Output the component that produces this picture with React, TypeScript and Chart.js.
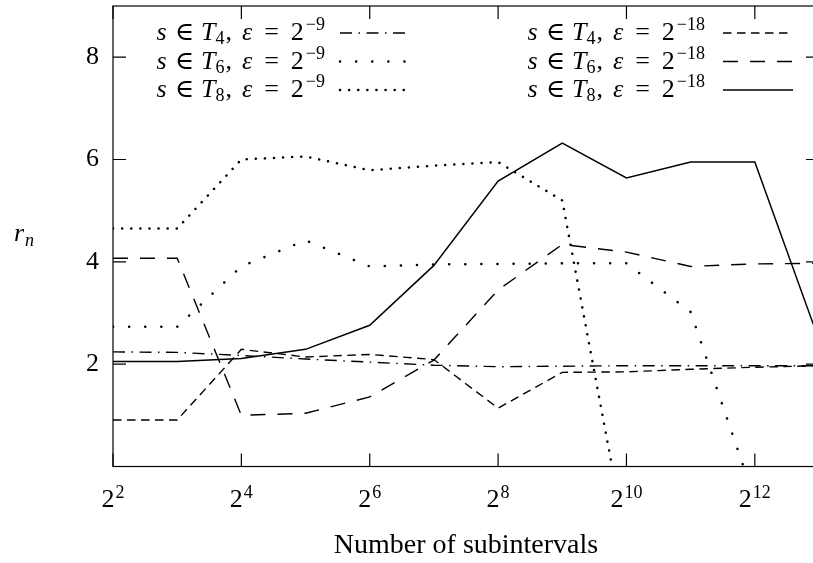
import React, { useEffect, useRef } from 'react';
import { Chart, registerables } from 'chart.js';

Chart.register(...registerables);

// ---- data ----
const nValues = [4, 8, 16, 32, 64, 128, 256, 512, 1024, 2048, 4096, 8192];
const xTickExponents = [2, 4, 6, 8, 10, 12];
const yTickValues = [2, 4, 6, 8];

const t4Eps9 = [2.24, 2.23, 2.17, 2.1, 2.04, 1.98, 1.95, 1.96, 1.97, 1.97, 1.97, 1.97];
const t6Eps9 = [2.73, 2.73, 3.91, 4.42, 3.91, 3.95, 3.96, 3.97, 3.97, 3.02, -0.65, null];
const t8Eps9 = [4.65, 4.65, 6.0, 6.06, 5.79, 5.88, 5.95, 5.2, -1.5, null, null, null];
const t4Eps18 = [0.91, 0.91, 2.29, 2.14, 2.19, 2.09, 1.14, 1.84, 1.85, 1.9, 1.94, 1.97];
const t6Eps18 = [4.07, 4.07, 1.0, 1.04, 1.36, 2.08, 3.45, 4.34, 4.19, 3.91, 3.96, 3.97];
const t8Eps18 = [2.05, 2.05, 2.11, 2.29, 2.76, 3.93, 5.58, 6.32, 5.64, 5.95, 5.95, 2.47];

const legendT = ['4', '6', '8', '4', '6', '8'];
const legendEps = ['\u22129', '\u22129', '\u22129', '\u221218', '\u221218', '\u221218'];

const xTitle = 'Number of subintervals';

const SERIF = '"Liberation Serif", "DejaVu Serif", serif';
const W = 830;
const H = 563;

function drawMathLabel(ctx: CanvasRenderingContext2D, tIdx: string, eps: string, rightX: number, baseline: number) {
  const M = 26;
  const S = 18;
  const parts = [
    { t: 's', it: true, sz: M, dy: 0, gap: 8 },
    { t: '\u2208', it: false, sz: M, dy: 0, gap: 7 },
    { t: 'T', it: true, sz: M, dy: 0, gap: 0 },
    { t: tIdx, it: false, sz: S, dy: 4, gap: 1 },
    { t: ',', it: false, sz: M, dy: 0, gap: 10 },
    { t: '\u03b5', it: true, sz: M, dy: 0, gap: 12 },
    { t: '=', it: false, sz: M, dy: 0, gap: 12 },
    { t: '2', it: false, sz: M, dy: 0, gap: 2 },
    { t: eps, it: false, sz: S, dy: -10, gap: 0 },
  ];
  const font = (p: any) => `${p.it ? 'italic ' : ''}${p.sz}px ${SERIF}`;
  let total = 0;
  const widths = parts.map((p) => {
    ctx.font = font(p);
    const w = ctx.measureText(p.t).width;
    total += w + p.gap;
    return w;
  });
  let x = rightX - total;
  ctx.textAlign = 'left';
  ctx.textBaseline = 'alphabetic';
  parts.forEach((p, i) => {
    ctx.font = font(p);
    ctx.fillText(p.t, x, baseline + p.dy);
    x += widths[i] + p.gap;
  });
}

const decorPlugin = {
  id: 'decor',
  afterDraw(chart: any) {
    const { ctx, chartArea: a, scales } = chart;
    const xs = scales.x;
    const ys = scales.y;
    ctx.save();
    ctx.strokeStyle = '#000';
    ctx.fillStyle = '#000';
    ctx.lineWidth = 1.2;
    ctx.setLineDash([]);
    ctx.strokeRect(a.left, a.top, a.right - a.left, a.bottom - a.top);
    const TL = 13;
    ctx.beginPath();
    xTickExponents.forEach((e) => {
      const px = xs.getPixelForValue(Math.pow(2, e));
      ctx.moveTo(px, a.bottom);
      ctx.lineTo(px, a.bottom - TL);
      ctx.moveTo(px, a.top);
      ctx.lineTo(px, a.top + TL);
    });
    yTickValues.forEach((v) => {
      const py = ys.getPixelForValue(v);
      ctx.moveTo(a.left, py);
      ctx.lineTo(a.left + TL, py);
      ctx.moveTo(a.right, py);
      ctx.lineTo(a.right - TL, py);
    });
    ctx.stroke();

    // x tick labels: 2^e
    ctx.textAlign = 'left';
    ctx.textBaseline = 'alphabetic';
    xTickExponents.forEach((e) => {
      const px = xs.getPixelForValue(Math.pow(2, e));
      ctx.font = `26px ${SERIF}`;
      const bw = ctx.measureText('2').width;
      ctx.font = `18px ${SERIF}`;
      const sw = ctx.measureText(String(e)).width;
      const x0 = px - (bw + sw + 1) / 2;
      ctx.font = `26px ${SERIF}`;
      ctx.fillText('2', x0, a.bottom + 40.5);
      ctx.font = `18px ${SERIF}`;
      ctx.fillText(String(e), x0 + bw + 1, a.bottom + 31);
    });

    // x title
    ctx.textAlign = 'center';
    ctx.textBaseline = 'middle';
    ctx.font = `28px ${SERIF}`;
    ctx.fillText(xTitle, (a.left + a.right) / 2, 546);

    // y title r_n
    const cy = (a.top + a.bottom) / 2;
    ctx.textAlign = 'left';
    ctx.textBaseline = 'alphabetic';
    ctx.font = `italic 26px ${SERIF}`;
    ctx.fillText('r', 14, cy + 5);
    const rw = ctx.measureText('r').width;
    ctx.font = `italic 18px ${SERIF}`;
    ctx.fillText('n', 14 + rw + 1, cy + 10);

    // legend
    chart.data.datasets.forEach((ds: any, i: number) => {
      const col = i < 3 ? 0 : 1;
      const row = i % 3;
      const rowY = a.top + 27 + row * 28.5;
      const rightX = a.left + (col === 0 ? 212 : 592);
      const sx1 = a.left + (col === 0 ? 227 : 610);
      const sx2 = sx1 + 70;
      ctx.fillStyle = '#000';
      drawMathLabel(ctx, legendT[i], legendEps[i], rightX, rowY + 7);
      ctx.save();
      ctx.strokeStyle = ds.borderColor;
      ctx.lineWidth = ds.borderWidth;
      ctx.lineCap = ds.borderCapStyle || 'butt';
      ctx.setLineDash(ds.borderDash || []);
      ctx.beginPath();
      ctx.moveTo(sx1, rowY);
      ctx.lineTo(sx2, rowY);
      ctx.stroke();
      ctx.restore();
    });
    ctx.restore();
  },
};

function mk(values: (number | null)[], dash: number[], width: number, cap: string) {
  return {
    data: values.map((v, i) => ({ x: nValues[i], y: v })),
    borderColor: '#000',
    backgroundColor: '#000',
    borderWidth: width,
    borderDash: dash,
    borderCapStyle: cap,
    pointRadius: 0,
    tension: 0,
    fill: false,
    spanGaps: false,
  };
}

export default function App() {
  const ref = useRef<HTMLCanvasElement>(null);
  useEffect(() => {
    if (!ref.current) return;
    const chart = new Chart(ref.current, {
      type: 'line',
      data: {
        datasets: [
          mk(t4Eps9, [12, 6.5, 1.5, 6.5], 1.4, 'butt'),
          mk(t6Eps9, [0.1, 16], 2.5, 'round'),
          mk(t8Eps9, [0.1, 9], 2.5, 'round'),
          mk(t4Eps18, [8.5, 5.5], 1.4, 'butt'),
          mk(t6Eps18, [15, 12], 1.4, 'butt'),
          mk(t8Eps18, [], 1.5, 'butt'),
        ] as any,
      },
      options: {
        animation: false,
        responsive: false,
        devicePixelRatio: 1,
        layout: { padding: { top: 6, right: 11, left: 0, bottom: 0 } },
        plugins: { legend: { display: false }, tooltip: { enabled: false }, title: { display: false } },
        scales: {
          x: {
            type: 'logarithmic',
            min: 4,
            max: 8192,
            grid: { display: false },
            border: { display: false },
            ticks: { display: false },
            afterFit: (s: any) => {
              s.height = 96.5;
              s.paddingLeft = 0;
              s.paddingRight = 0;
            },
          },
          y: {
            type: 'linear',
            min: 0,
            max: 9,
            grid: { display: false, drawTicks: false },
            border: { display: false },
            afterBuildTicks: (s: any) => {
              s.ticks = yTickValues.map((v) => ({ value: v }));
            },
            ticks: {
              color: '#000',
              padding: 14,
              font: { family: SERIF, size: 26 },
            },
            afterFit: (s: any) => {
              s.width = 113;
              s.paddingTop = 0;
              s.paddingBottom = 0;
            },
          },
        },
      } as any,
      plugins: [decorPlugin],
    });
    return () => chart.destroy();
  }, []);
  return (
    <div style={{ position: 'fixed', left: 0, top: 0, width: 813, height: 563, overflow: 'hidden', background: '#fff' }}>
      <canvas ref={ref} width={W} height={H} style={{ display: 'block', width: W, height: H }} />
    </div>
  );
}
